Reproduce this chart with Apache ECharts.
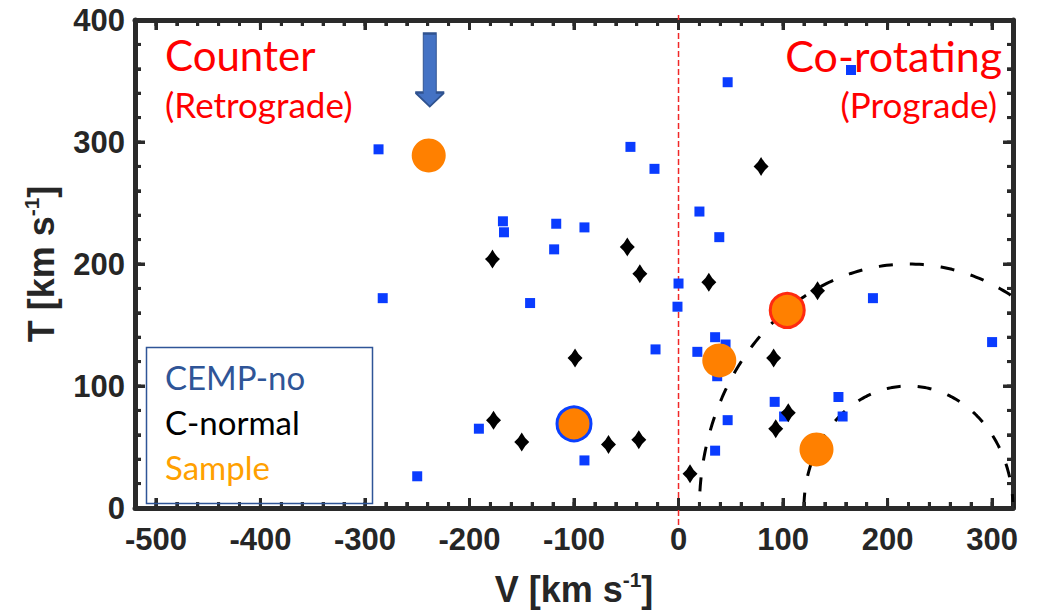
<!DOCTYPE html>
<html>
<head>
<meta charset="utf-8">
<script src="https://cdn.jsdelivr.net/npm/echarts@6/dist/echarts.min.js"></script>
<style>
  html, body { margin: 0; padding: 0; background: #ffffff; }
  #chart { width: 1038px; height: 612px; }
</style>
</head>
<body>
<div id="chart"></div>
<script>
// Toomre-style velocity diagram: V (galactic rotation) vs T, in km/s

// CEMP-no stars
const cempNoV = [-287, -46, -23, -168, -167, -117, -90, -119, -283, -142, -22, -191, -90, -250,
                 20, 39, 0, -1, 186, 300, 18, 35, 45, 37, 92, 153, 101, 157, 47, 35, 47, 165];
const cempNoT = [294, 296, 278, 235, 226, 233, 230, 212, 172, 168, 130, 65, 39, 26,
                 243, 222, 184, 165, 172, 136, 128, 140, 134, 108, 87, 91, 75, 75, 72, 47, 349, 359];

// Carbon-normal stars
const cNormalV = [-178, -49, -37, 29, 133, 79, -99, 91, -177, -150, -67, -38, 105, 93, 11];
const cNormalT = [204, 214, 192, 185, 178, 280, 123, 123, 72, 54, 52, 56, 78, 65, 28];

// Program sample
const sampleV = [-239, -100, 104, 39, 132];
const sampleT = [289, 69, 162, 121, 48];

// Axis ranges and ticks
const xTickValues = [-500, -400, -300, -200, -100, 0, 100, 200, 300];
const yTickValues = [0, 100, 200, 300, 400];
const xRange = [-520, 320];
const yRange = [0, 400];

// Constant-velocity reference arcs (centre on the V axis, radii in km/s)
const arcCenterV = 220;
const arcRadii = [100, 200];

// Arrow pointing at the retrograde sample star (V, T of its centre)
const arrowPos = [-238, 359];

// Minor ticks every 20 km/s on both axes
const xMinorValues = [];
for (let v = xRange[0]; v <= xRange[1]; v += 20) xMinorValues.push(v);
const yMinorValues = [];
for (let t = yRange[0]; t <= yRange[1]; t += 20) yMinorValues.push(t);

const AXIS_COLOR = '#2a2a2a';
const LABEL_COLOR = '#262626';
const LABEL_FONT = 'Liberation Sans';

function arcPoints(r) {
  const pts = [];
  for (let a = 0; a <= 180; a += 1) {
    const t = a * Math.PI / 180;
    pts.push([arcCenterV + r * Math.cos(t), r * Math.sin(t)]);
  }
  return pts;
}

const nameRich = {
  t: { fontFamily: LABEL_FONT, fontWeight: 'bold', fontSize: 36, color: LABEL_COLOR, lineHeight: 40 },
  s: { fontFamily: LABEL_FONT, fontWeight: 'bold', fontSize: 21, color: LABEL_COLOR, lineHeight: 24, verticalAlign: 'top' }
};

function xAxisDef(position, major, withLabels) {
  return {
    type: 'value',
    position: position,
    min: xRange[0],
    max: xRange[1],
    axisLine: { show: major, onZero: false, lineStyle: { color: AXIS_COLOR, width: 5 } },
    axisTick: {
      show: true, inside: true, length: major ? 10 : 6,
      customValues: major ? xTickValues : xMinorValues,
      lineStyle: { color: AXIS_COLOR, width: 3 }
    },
    axisLabel: withLabels ? {
      show: true, customValues: xTickValues, margin: 16,
      fontFamily: LABEL_FONT, fontWeight: 'bold', fontSize: 31, color: LABEL_COLOR
    } : { show: false },
    splitLine: { show: false },
    name: withLabels ? '{t|V [km s}{s|-1}{t|]}' : '',
    nameLocation: 'middle',
    nameGap: 61,
    nameTextStyle: { rich: nameRich }
  };
}

function yAxisDef(position, withLabels) {
  return {
    type: 'value',
    position: position,
    min: yRange[0],
    max: yRange[1],
    interval: 100,
    axisLine: { show: true, onZero: false, lineStyle: { color: AXIS_COLOR, width: 5 } },
    axisTick: { show: true, inside: true, length: 10, lineStyle: { color: AXIS_COLOR, width: 3 } },
    minorTick: { show: true, splitNumber: 5, length: 6, lineStyle: { color: AXIS_COLOR, width: 3 } },
    axisLabel: withLabels ? {
      show: true, margin: 10,
      fontFamily: LABEL_FONT, fontWeight: 'bold', fontSize: 31, color: LABEL_COLOR
    } : { show: false },
    splitLine: { show: false },
    minorSplitLine: { show: false },
    name: withLabels ? '{t|T [km s}{s|-1}{t|]}' : '',
    nameLocation: 'middle',
    nameGap: 74,
    nameTextStyle: { rich: nameRich }
  };
}

// Inward tick marks on all four sides of the box, placed through the axis scales
function tickMarks(points, size, offset) {
  return {
    type: 'scatter',
    data: points,
    symbol: 'rect',
    symbolSize: size,
    symbolOffset: offset,
    clip: false,
    silent: true,
    z: 2,
    itemStyle: { color: AXIS_COLOR, opacity: 1 }
  };
}
const boxTicks = [
  tickMarks(xTickValues.map(v => [v, yRange[0]]), [3, 10], [0, -5]),
  tickMarks(xMinorValues.map(v => [v, yRange[0]]), [3, 6], [0, -3]),
  tickMarks(xTickValues.map(v => [v, yRange[1]]), [3, 10], [0, 5]),
  tickMarks(xMinorValues.map(v => [v, yRange[1]]), [3, 6], [0, 3]),
  tickMarks(yTickValues.map(t => [xRange[0], t]), [10, 3], [5, 0]),
  tickMarks(yMinorValues.map(t => [xRange[0], t]), [6, 3], [3, 0]),
  tickMarks(yTickValues.map(t => [xRange[1], t]), [10, 3], [-5, 0]),
  tickMarks(yMinorValues.map(t => [xRange[1], t]), [6, 3], [-3, 0])
];

const sampleEdges = { 1: '#0a40ff', 2: '#ff2a10' };

const option = {
  backgroundColor: '#ffffff',
  animation: false,
  grid: { left: 135, right: 25, top: 20, bottom: 104, containLabel: false, outerBoundsMode: 'none' },
  xAxis: [
    xAxisDef('bottom', true, true),
    xAxisDef('bottom', false, false),
    xAxisDef('top', true, false),
    xAxisDef('top', false, false)
  ],
  yAxis: [
    yAxisDef('left', true),
    yAxisDef('right', false)
  ],
  legend: {
    orient: 'vertical',
    left: 160,
    top: 359,
    padding: 0,
    itemWidth: 0,
    itemHeight: 36,
    itemGap: 9,
    icon: 'rect',
    selectedMode: false,
    textStyle: { fontFamily: 'Lato', fontSize: 33, lineHeight: 36 },
    data: [
      { name: 'CEMP-no', textStyle: { color: '#2f5597' } },
      { name: 'C-normal', textStyle: { color: '#000000' } },
      { name: 'Sample', textStyle: { color: '#ffa000' } }
    ]
  },
  graphic: [
    { type: 'rect', left: 144, top: 345, z: 10,
      shape: { width: 226, height: 156 },
      style: { fill: 'none', stroke: '#2f5597', lineWidth: 1.5 } },
    { type: 'text', left: 165, top: 34, z: 10,
      style: { text: 'Counter', font: '42px Lato', fill: '#ff0000' } },
    { type: 'text', left: 165, top: 86, z: 10,
      style: { text: '(Retrograde)', font: '35px Lato', fill: '#ff0000' } },
    { type: 'text', right: 36, top: 34, z: 10,
      style: { text: 'Co-rotating', font: '43px Lato', fill: '#ff0000' } },
    { type: 'text', right: 41, top: 86, z: 10,
      style: { text: '(Prograde)', font: '35px Lato', fill: '#ff0000' } }
  ],
  series: [
    ...boxTicks,
    ...arcRadii.map((r) => ({
      type: 'line',
      name: 'arc' + r,
      data: arcPoints(r),
      showSymbol: false,
      silent: true,
      z: 1,
      lineStyle: { color: '#000000', width: 3, type: [14, 17] }
    })),
    {
      type: 'line',
      name: 'V=0',
      data: [[0, -14], [0, 404]],
      showSymbol: false,
      silent: true,
      clip: false,
      z: 1,
      lineStyle: { color: '#f02828', width: 1.5, type: [6, 3] }
    },
    {
      type: 'scatter',
      name: 'CEMP-no',
      data: cempNoV.map((v, i) => [v, cempNoT[i]]),
      symbol: 'rect',
      symbolSize: 10,
      z: 3,
      itemStyle: { color: '#0a3cff', opacity: 1 }
    },
    {
      type: 'scatter',
      name: 'C-normal',
      data: cNormalV.map((v, i) => [v, cNormalT[i]]),
      symbol: 'path://M0,-10 Q2.8,-3.8 7,0 Q2.8,3.8 0,10 Q-2.8,3.8 -7,0 Q-2.8,-3.8 0,-10 Z',
      symbolSize: [15, 19],
      z: 4,
      itemStyle: { color: '#000000', opacity: 1 }
    },
    {
      type: 'scatter',
      name: 'Sample',
      data: sampleV.map((v, i) => {
        const item = { value: [v, sampleT[i]] };
        if (sampleEdges[i]) item.itemStyle = { borderColor: sampleEdges[i], borderWidth: 3 };
        return item;
      }),
      symbol: 'circle',
      symbolSize: 34,
      z: 5,
      itemStyle: { color: '#ff8000', opacity: 1 }
    },
    {
      type: 'scatter',
      name: 'arrow',
      data: [arrowPos],
      symbol: 'path://M8,0 L21,0 L21,59 L29,59 L14.5,73 L0,59 L8,59 Z',
      symbolSize: [29, 73],
      silent: true,
      z: 6,
      itemStyle: { color: '#4472c4', borderColor: '#2f528f', borderWidth: 1.5, opacity: 1 }
    }
  ]
};

// SVG output keeps every element as its own node
const chart = echarts.init(document.getElementById('chart'), null, { renderer: 'svg' });
chart.setOption(option);

// Redraw once fonts are settled so text metrics and layout are final
if (document.fonts && document.fonts.ready) {
  document.fonts.ready.then(() => { chart.setOption(option, true); });
}
</script>
</body>
</html>
